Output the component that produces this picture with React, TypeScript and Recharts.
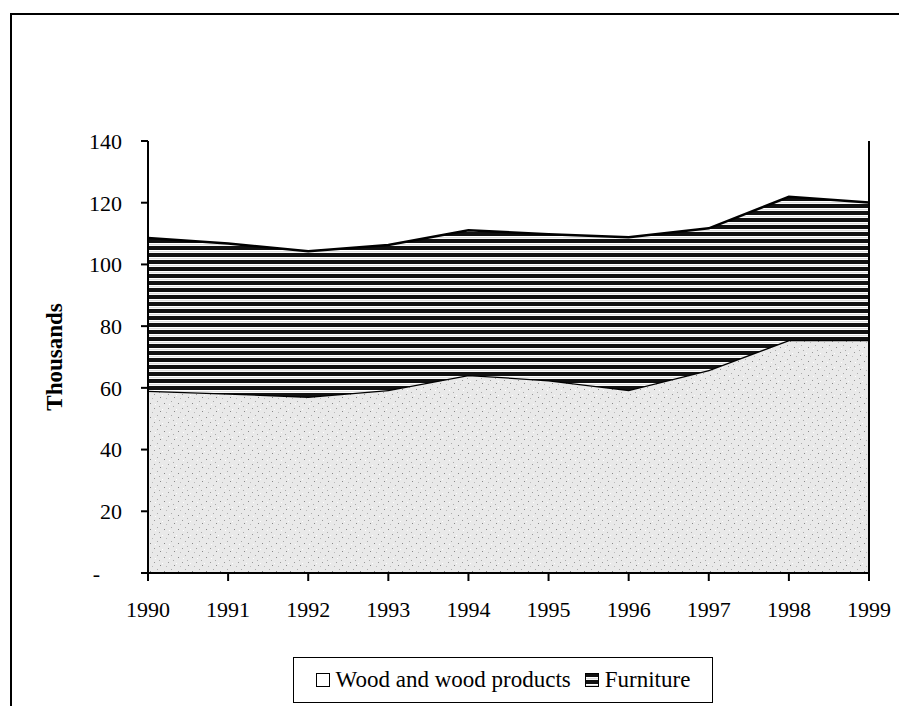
import { AreaChart, Area, XAxis, YAxis, ReferenceLine } from "recharts";

const years = ["1990", "1991", "1992", "1993", "1994", "1995", "1996", "1997", "1998", "1999"];
const wood = [59.1, 58.2, 57.1, 59.3, 64.2, 62.5, 59.3, 65.8, 75.5, 75.5];
const furniture = [49.5, 48.6, 47.2, 47.0, 46.9, 47.3, 49.5, 45.9, 46.4, 44.6];
const yTicks = [0, 20, 40, 60, 80, 100, 120, 140];

const data = years.map((year, i) => ({ year, wood: wood[i], furniture: furniture[i] }));

const FONT = '"Liberation Serif", "Times New Roman", serif';
const tickStyle = { fontSize: 22, fill: "#000", fontFamily: FONT };

function Patterns() {
  return (
    <defs>
      <pattern id="stripes" patternUnits="userSpaceOnUse" width="8" height="7">
        <rect width="8" height="7" fill="#fff" />
        <rect width="8" height="4" fill="#111" />
        <rect y="5.5" width="8" height="0.6" fill="#bbb" />
      </pattern>
      <pattern id="stipple" patternUnits="userSpaceOnUse" width="14" height="14">
        <rect width="14" height="14" fill="#e9e9e9" />
        <rect x="2" y="3" width="1" height="1" fill="#888" />
        <rect x="9" y="1" width="1" height="1" fill="#aaa" />
        <rect x="6" y="8" width="1" height="1" fill="#999" />
        <rect x="12" y="11" width="1" height="1" fill="#888" />
        <rect x="4" y="12" width="1" height="1" fill="#bbb" />
        <rect x="11" y="6" width="1" height="1" fill="#aaa" />
        <rect x="0" y="9" width="1" height="1" fill="#fff" />
        <rect x="7" y="4" width="1" height="1" fill="#fff" />
      </pattern>
    </defs>
  );
}

function Swatch({ fill }: { fill: string }) {
  return (
    <svg width="14" height="14" style={{ display: "block" }}>
      <Patterns />
      <rect x="0.5" y="0.5" width="13" height="13" fill={fill} stroke="#000" strokeWidth="1" />
    </svg>
  );
}

export default function App() {
  return (
    <div style={{ position: "relative", width: 899, height: 698, fontFamily: FONT }}>
      <div
        style={{
          position: "absolute",
          left: 2,
          top: 5,
          width: 897,
          height: 693,
          borderTop: "2px solid #000",
          borderLeft: "2px solid #000",
          boxSizing: "border-box",
        }}
      />
      <div style={{ position: "absolute", left: 0, top: 0 }}>
        <AreaChart
          width={899}
          height={698}
          data={data}
          margin={{ top: 133, right: 38, bottom: 103, left: 40 }}
        >
          <Patterns />
          <XAxis
            dataKey="year"
            height={30}
            tick={tickStyle}
            tickSize={8}
            tickMargin={20}
            stroke="#000"
            strokeWidth={2}
            interval={0}
          />
          <YAxis
            width={100}
            domain={[0, 140]}
            ticks={yTicks}
            tick={tickStyle}
            tickSize={7}
            tickMargin={19}
            stroke="#000"
            strokeWidth={2}
            tickFormatter={(v: number) => (v === 0 ? "-\u00a0\u00a0\u00a0\u00a0" : String(v))}
            label={{
              value: "Thousands",
              angle: -90,
              position: "insideLeft",
              offset: 6,
              style: { textAnchor: "middle", fontSize: 23, fontWeight: "bold", fill: "#000", fontFamily: FONT },
            }}
          />
          <Area
            type="linear"
            dataKey="wood"
            stackId="1"
            stroke="#000"
            strokeWidth={2.5}
            fill="url(#stipple)"
            fillOpacity={1}
            isAnimationActive={false}
          />
          <Area
            type="linear"
            dataKey="furniture"
            stackId="1"
            stroke="#000"
            strokeWidth={2.5}
            fill="url(#stripes)"
            fillOpacity={1}
            isAnimationActive={false}
          />
          <ReferenceLine x="1999" stroke="#000" strokeWidth={2} />
        </AreaChart>
      </div>
      <div
        style={{
          position: "absolute",
          left: 285,
          top: 649,
          width: 420,
          height: 46,
          border: "1px solid #000",
          boxSizing: "border-box",
          display: "flex",
          alignItems: "center",
          justifyContent: "center",
          gap: 6,
          fontSize: 23,
          color: "#000",
        }}
      >
        <Swatch fill="#fff" />
        <span>Wood and wood products</span>
        <span style={{ width: 2 }} />
        <Swatch fill="url(#stripes)" />
        <span>Furniture</span>
      </div>
    </div>
  );
}
